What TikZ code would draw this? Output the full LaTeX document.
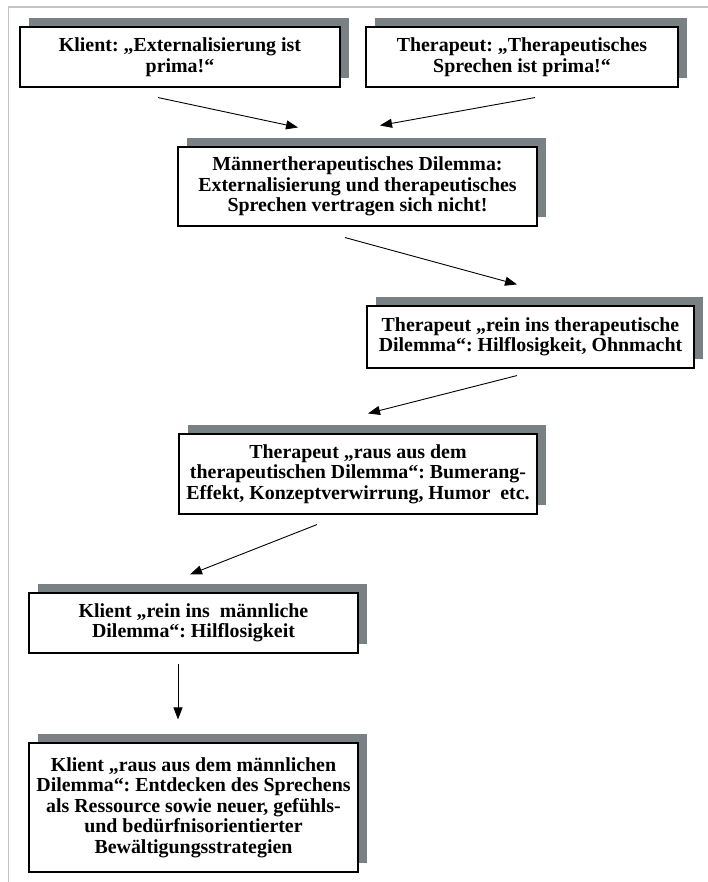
\documentclass[tikz,border=0pt]{standalone}
\usepackage{fontspec}
\setmainfont{Liberation Serif}
\usepackage{tikz}
\usetikzlibrary{positioning, calc, shadows, arrows.meta}
\definecolor{shadowgray}{HTML}{7A8184}
\definecolor{framegray}{HTML}{C4C4C4}
\frenchspacing

\begin{document}
\begin{tikzpicture}[x=1pt, y=-1pt,
        box/.style={draw=black, line width=1.1pt, fill=white, align=center, inner sep=0pt,
            font=\fontsize{19.9}{20.5}\selectfont\bfseries,
            general shadow={fill=shadowgray, shadow xshift=9pt, shadow yshift=9pt}},
        arr/.style={-{Triangle[length=12pt, width=9pt]}, line width=0.9pt}]
        \useasboundingbox (0,0) rectangle (708,882);
        \draw[framegray, line width=1.8pt] (8.5,882) -- (8.5,7) -- (708,7);
        % top row
        \node[box, minimum width=320, minimum height=60] (k1) at (180,57) {Klient: „Externalisierung ist\\prima!“};
        \node[box, minimum width=312, minimum height=60] (t1) at (522,57) {Therapeut: „Therapeutisches\\Sprechen ist prima!“};
        \node[box, minimum width=359, minimum height=79] (dil) at (357.5,186.5) {Männertherapeutisches Dilemma:\\Externalisierung und therapeutisches\\Sprechen vertragen sich nicht!};
        \node[box, minimum width=327, minimum height=62] (trein) at (530.5,337) {Therapeut „rein ins therapeutische\\Dilemma“: Hilflosigkeit, Ohnmacht};
        \node[box, minimum width=358, minimum height=80] (traus) at (358,474) {Therapeut „raus aus dem\\therapeutischen Dilemma“: Bumerang-\\Effekt, Konzeptverwirrung, Humor\ \ etc.};
        \node[box, minimum width=329, minimum height=60] (krein) at (193.5,623) {Klient „rein ins\ \ männliche\\Dilemma“: Hilflosigkeit};
        \node[box, minimum width=329, minimum height=129] (kraus) at (193.5,807.5) {Klient „raus aus dem männlichen\\Dilemma“: Entdecken des Sprechens\\als Ressource sowie neuer, gefühls-\\und bedürfnisorientierter\\Bewältigungsstrategien};
        % arrows
        \draw[arr] ($(k1.south)+(-22,10)$) -- ($(dil.north)+(-59.5,-19)$);
        \draw[arr] ($(t1.south)+(13,10)$) -- ($(dil.north)+(22.5,-21)$);
        \draw[arr] ($(dil.south)+(-12.5,11)$) -- ($(trein.north)+(-13.5,-21)$);
        \draw[arr] ($(trein.south)+(-13.5,7)$) -- ($(traus.north)+(10,-20)$);
        \draw[arr] ($(traus.south)+(-41,10)$) -- ($(krein.north)+(-3.5,-18)$);
        \draw[arr] ($(krein.south)+(-15.5,10)$) -- ($(kraus.north)+(-15.5,-23)$);
    \end{tikzpicture}
\end{document}
